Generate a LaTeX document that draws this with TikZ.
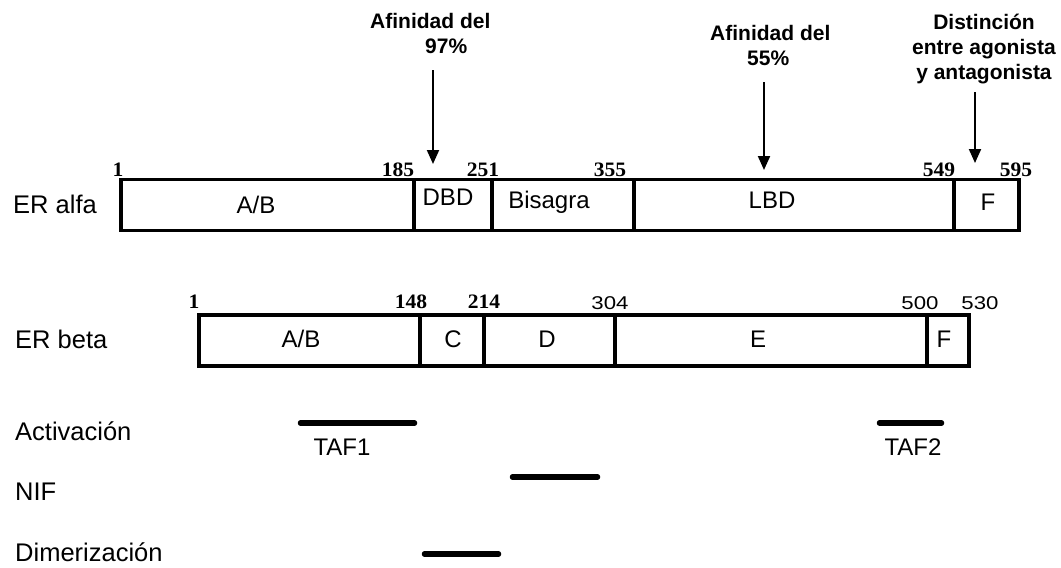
\documentclass[tikz,border=0pt]{standalone}
\usepackage{fontspec}
\setmainfont{Liberation Sans}
\newfontfamily\numserif[FakeStretch=1.05]{Liberation Serif}
\newfontfamily\numsans[FakeStretch=1.2]{Liberation Sans}
\usetikzlibrary{arrows.meta}

\tikzset{
  seg/.style={draw, line width=3.5pt, anchor=north west, inner sep=0pt, minimum height=51pt},
  boxtxt/.style={anchor=base, inner sep=0pt, font=\fontsize{24}{28}\selectfont},
  rowlbl/.style={anchor=base west, inner sep=0pt, font=\fontsize{25.5}{30}\selectfont},
  numlbl/.style={anchor=base, inner sep=0pt, font=\numserif\bfseries\fontsize{20.5}{22}\selectfont},
  numlblsans/.style={anchor=base, inner sep=0pt, font=\numsans\fontsize{18.5}{22}\selectfont},
  note/.style={inner sep=0pt, font=\bfseries\fontsize{21}{25}\selectfont},
  pointer/.style={line width=2pt, -{Triangle[width=12pt,length=14pt]}},
  region/.style={line width=5.5pt, line cap=round},
  taftxt/.style={anchor=base, inner sep=0pt, font=\fontsize{24}{28}\selectfont}
}

\begin{document}
\begin{tikzpicture}[x=1pt, y=-1pt]
  \path[use as bounding box, fill=white] (0,0) rectangle (1061,568);

  % ---- ER alfa ----
  \node[rowlbl] (alfa) at (13,213) {ER alfa};
  \node[seg, minimum width=293pt] (a1) at (119,177.5) {};
  \node[seg, minimum width=78pt]  (a2) at (412,177.5) {};
  \node[seg, minimum width=142pt] (a3) at (490,177.5) {};
  \node[seg, minimum width=320pt] (a4) at (632,177.5) {};
  \node[seg, minimum width=65pt]  (a5) at (952,177.5) {};

  \node[boxtxt] (ta1) at (256,213) {A/B};
  \node[boxtxt] (ta2) at (448,205) {DBD};
  \node[boxtxt] (ta3) at (549,208) {Bisagra};
  \node[boxtxt] (ta4) at (772,208) {LBD};
  \node[boxtxt] (ta5) at (988,210) {F};

  \node[numlbl] (na0) at (118,176) {1};
  \node[numlbl] (na1) at (398,176) {185};
  \node[numlbl] (na2) at (483,176) {251};
  \node[numlbl] (na3) at (610,176) {355};
  \node[numlbl] (na4) at (939,176) {549};
  \node[numlbl] (na5) at (1016,176) {595};

  % ---- notes with pointers ----
  \node[note, anchor=north west, align=left] (n1) at (370,13)
    {Afinidad del\\\hspace*{55pt}97\%};
  \node[note, anchor=north west, align=left] (n2) at (710,25)
    {Afinidad del\\\hspace*{37pt}55\%};
  \node[note, anchor=north, align=center] (n3) at (984,14)
    {Distinción\\entre agonista\\y antagonista};

  \coordinate (s1) at (433,70);  \coordinate (e1) at (433,164);
  \coordinate (s2) at (764,82);  \coordinate (e2) at (764,170);
  \coordinate (s3) at (975,92);  \coordinate (e3) at (975,163);
  \draw[pointer] (s1) -- (e1);
  \draw[pointer] (s2) -- (e2);
  \draw[pointer] (s3) -- (e3);

  % ---- ER beta ----
  \node[rowlbl] (beta) at (15,348) {ER beta};
  \node[seg, minimum width=221pt] (b1) at (197,313) {};
  \node[seg, minimum width=64pt]  (b2) at (418,313) {};
  \node[seg, minimum width=131pt] (b3) at (482,313) {};
  \node[seg, minimum width=312pt] (b4) at (613,313) {};
  \node[seg, minimum width=42pt]  (b5) at (925,313) {};

  \node[boxtxt] (tb1) at (301,347) {A/B};
  \node[boxtxt] (tb2) at (453,347) {C};
  \node[boxtxt] (tb3) at (547,347) {D};
  \node[boxtxt] (tb4) at (758,347) {E};
  \node[boxtxt] (tb5) at (944,347) {F};

  \node[numlbl] (nb0) at (194,308) {1};
  \node[numlbl] (nb1) at (411,308) {148};
  \node[numlbl] (nb2) at (484,308) {214};
  \node[numlblsans] (nb3) at (610,309) {304};
  \node[numlblsans] (nb4) at (920,309) {500};
  \node[numlblsans] (nb5) at (980,309) {530};

  % ---- functional regions ----
  \node[rowlbl] (act) at (15,440) {Activación};
  \node[rowlbl] (nif) at (15,500) {NIF};
  \node[rowlbl] (dim) at (15,561) {Dimerización};

  \draw[region] (300.5,423) -- (414.5,423);
  \draw[region] (879.5,423) -- (941.5,423);
  \draw[region] (512.5,477) -- (597.5,477);
  \draw[region] (424.5,554) -- (498.5,554);

  \node[taftxt] (taf1) at (342,455) {TAF1};
  \node[taftxt] (taf2) at (913,455) {TAF2};
\end{tikzpicture}
\end{document}
